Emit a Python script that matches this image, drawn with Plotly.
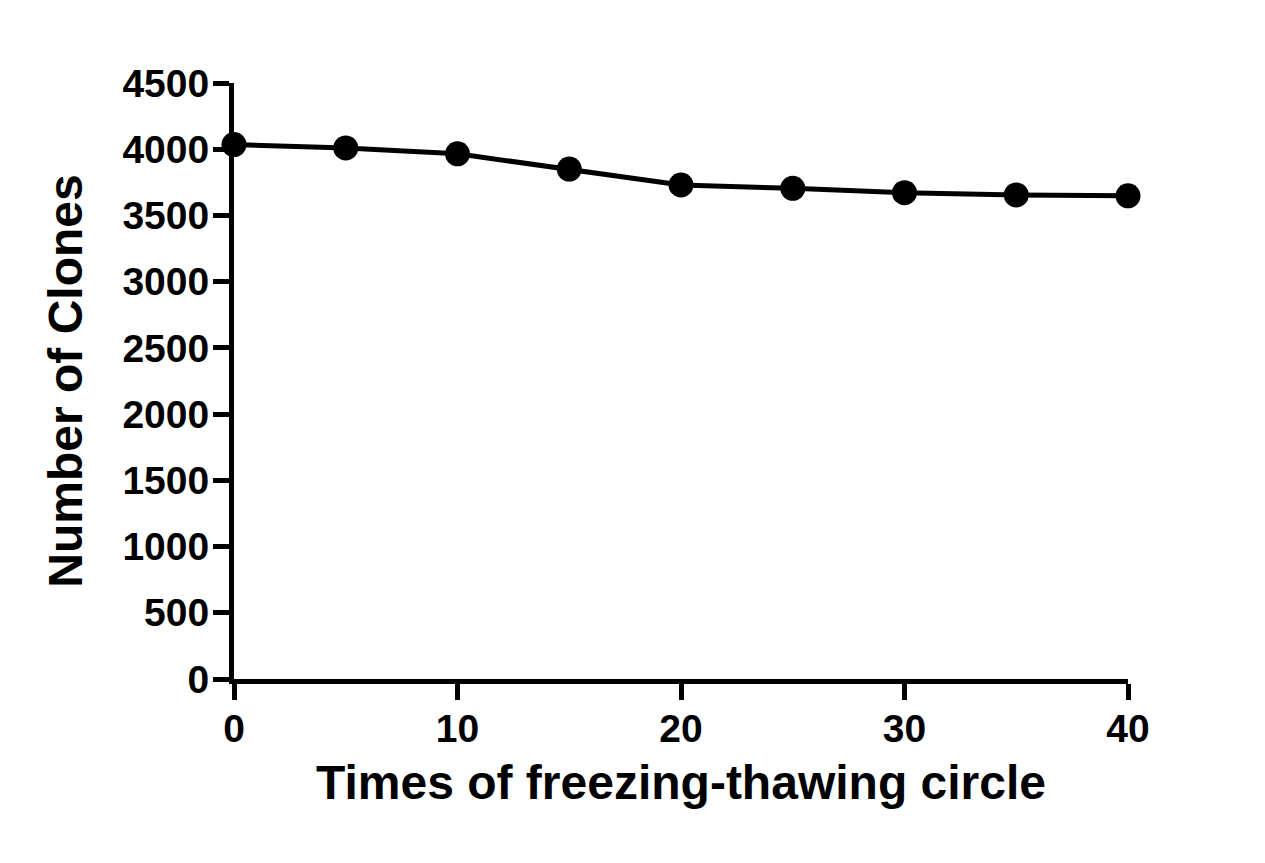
import plotly.graph_objects as go

cycles = [0, 5, 10, 15, 20, 25, 30, 35, 40]
clones = [4035, 4010, 3965, 3850, 3730, 3705, 3672, 3655, 3648]

x_ticks = [0, 10, 20, 30, 40]
y_ticks = list(range(0, 4501, 500))

font_family = "Liberation Sans, Arial, sans-serif"

fig = go.Figure()
fig.add_trace(go.Scatter(
    x=cycles, y=clones, mode="lines+markers",
    line=dict(color="black", width=5),
    marker=dict(color="black", size=25),
    cliponaxis=False, showlegend=False,
))

fig.update_layout(
    width=1265, height=863,
    margin=dict(l=234, r=137, t=83, b=184),
    paper_bgcolor="white", plot_bgcolor="white",
    font=dict(family=font_family, color="black"),
    xaxis=dict(
        range=[0, 40], tickvals=x_ticks, ticktext=[str(v) for v in x_ticks],
        showline=True, linecolor="black", linewidth=5,
        ticks="outside", ticklen=16, tickwidth=5, tickcolor="black",
        showgrid=False, zeroline=False, ticklabelstandoff=-5,
        tickfont=dict(size=39, family=font_family, weight="bold"),
        title=dict(text="<b>Times of freezing-thawing circle</b>",
                   font=dict(size=48, family=font_family), standoff=18),
    ),
    yaxis=dict(
        range=[0, 4500], tickvals=y_ticks, ticktext=[str(v) for v in y_ticks],
        showline=True, linecolor="black", linewidth=5,
        ticks="outside", ticklen=16, tickwidth=5, tickcolor="black",
        showgrid=False, zeroline=False, ticklabelstandoff=-4,
        tickfont=dict(size=39, family=font_family, weight="bold"),
        title=dict(text="<b>Number of Clones</b>",
                   font=dict(size=48, family=font_family), standoff=26),
    ),
)

fig.write_html("out.html", config={"displayModeBar": False})

with open("out.html", "r", encoding="utf-8") as f:
    html = f.read()
html = html.replace("<body>", '<body style="margin:0;padding:0">', 1)
with open("out.html", "w", encoding="utf-8") as f:
    f.write(html)
